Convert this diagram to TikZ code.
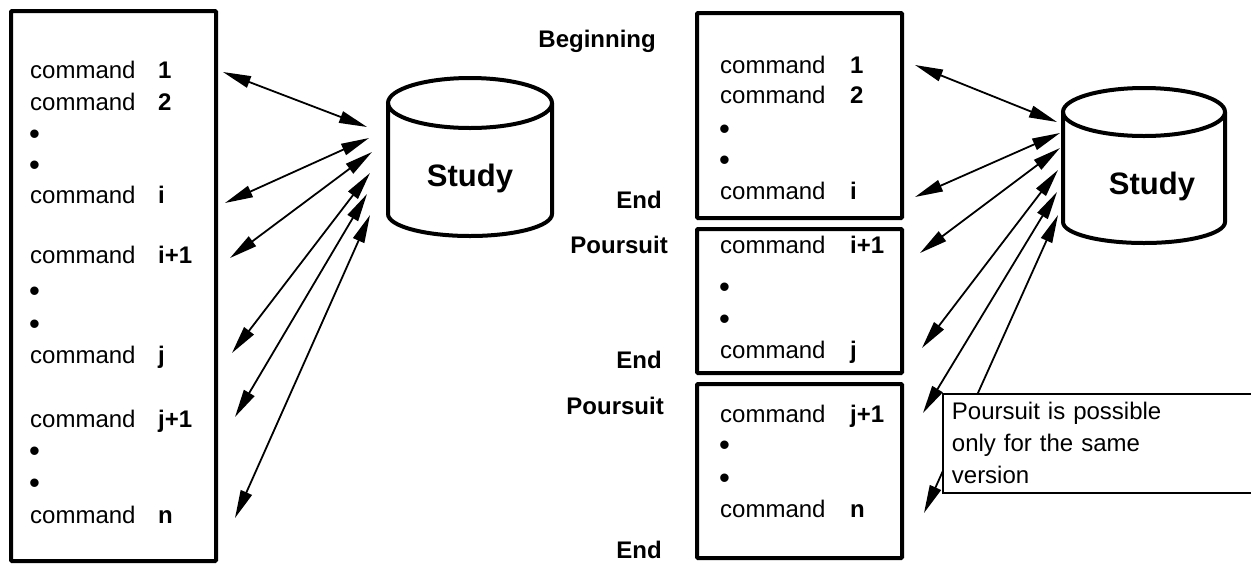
\documentclass[tikz,border=0pt]{standalone}
\usepackage{fontspec}
\setmainfont{Liberation Sans}
\usetikzlibrary{arrows.meta}

\tikzset{
  box/.style={line width=4pt, rounded corners=1pt},
  db/.style={line width=4pt},
  cmd/.style={anchor=base west, inner sep=0pt, font=\fontsize{24}{28}\selectfont},
  num/.style={cmd, font=\fontsize{24}{28}\selectfont\bfseries},
  dot/.style={cmd, font=\fontsize{31}{34}\selectfont},
  tag/.style={anchor=base east, inner sep=0pt, font=\fontsize{24}{28}\selectfont\bfseries},
  dbname/.style={font=\fontsize{31}{36}\selectfont\bfseries},
  link/.style={line width=1.8pt, {Triangle[length=28pt,width=12pt]}-{Triangle[length=28pt,width=12pt]}},
  note/.style={draw, fill=white, line width=1.8pt, anchor=north west, align=left,
    text width=330pt, minimum height=99pt, inner xsep=9pt, inner ysep=0pt,
    font=\fontsize{24}{32}\selectfont},
}

\begin{document}
\begin{tikzpicture}[x=1pt, y=-1pt]
    \useasboundingbox (0,0) rectangle (1251,563);

    % one run, left
    \draw [box] (11,11) rectangle (216,561);
    \foreach \name/\y/\lab in {l1/78/1, l2/110/2, li/203/i, lii/263/i+1, lj/363/j, ljj/427/j+1, ln/523/n} {
      \node [cmd] (\name) at (30,\y) {command};
      \node [num] (\name-k) at (158,\y) {\lab};
    }
    \foreach \name/\y in {lb1/144, lb2/175, lb3/301, lb4/334, lb5/461, lb6/493}
      \node [dot] (\name) at (29,\y) {\textbullet};

    \draw [db] (470,103) ellipse (82 and 25);
    \draw [db] (388,103) -- (388,214) arc (180:0:82 and 22) -- (552,103);
    \node [dbname] (study1) at (470,178) {Study};

    \foreach \i/\xa/\ya/\xb/\yb in {1/223/72/367/127, 2/225/203/369/138, 3/230/258/372/152,
                                    4/232/353/370/173, 5/235/417/367/194, 6/235/518/370/215} {
      \coordinate (la\i) at (\xa,\ya);
      \coordinate (lb\i) at (\xb,\yb);
      \draw [link] (la\i) -- (lb\i);
    }

    % three runs, right
    \draw [box] (697,13) rectangle (902,218);
    \draw [box] (697,229) rectangle (902,373);
    \draw [box] (697,384) rectangle (902,558);
    \foreach \name/\y/\lab in {r1/73/1, r2/103/2, ri/199/i, rii/253/i+1, rj/358/j, rjj/422/j+1, rn/517/n} {
      \node [cmd] (\name) at (720,\y) {command};
      \node [num] (\name-k) at (850,\y) {\lab};
    }
    \foreach \name/\y in {rb1/139, rb2/170, rb3/297, rb4/329, rb5/455, rb6/488}
      \node [dot] (\name) at (719,\y) {\textbullet};

    \node [tag] (begin1) at (656,47) {Beginning};
    \node [tag] (end1) at (662,208) {End};
    \node [tag] (cont2) at (668,253) {Poursuit};
    \node [tag] (end2) at (662,368) {End};
    \node [tag] (cont3) at (664,414) {Poursuit};
    \node [tag] (end3) at (662,558) {End};

    \draw [db] (1144,112) ellipse (81 and 24);
    \draw [db] (1063,112) -- (1063,222) arc (180:0:81 and 21) -- (1225,112);
    \node [dbname] (study2) at (1152,186) {Study};

    \foreach \i/\xa/\ya/\xb/\yb in {1/915/65/1057/122, 2/915/197/1060/133, 3/920/253/1060/148,
                                    4/922/348/1058/170, 5/923/413/1057/192, 6/924/513/1058/215} {
      \coordinate (ra\i) at (\xa,\ya);
      \coordinate (rb\i) at (\xb,\yb);
      \draw [link] (ra\i) -- (rb\i);
    }

    \node [note] (hint) at (942,393) {Poursuit is possible\\only for the same\\version};
\end{tikzpicture}
\end{document}
